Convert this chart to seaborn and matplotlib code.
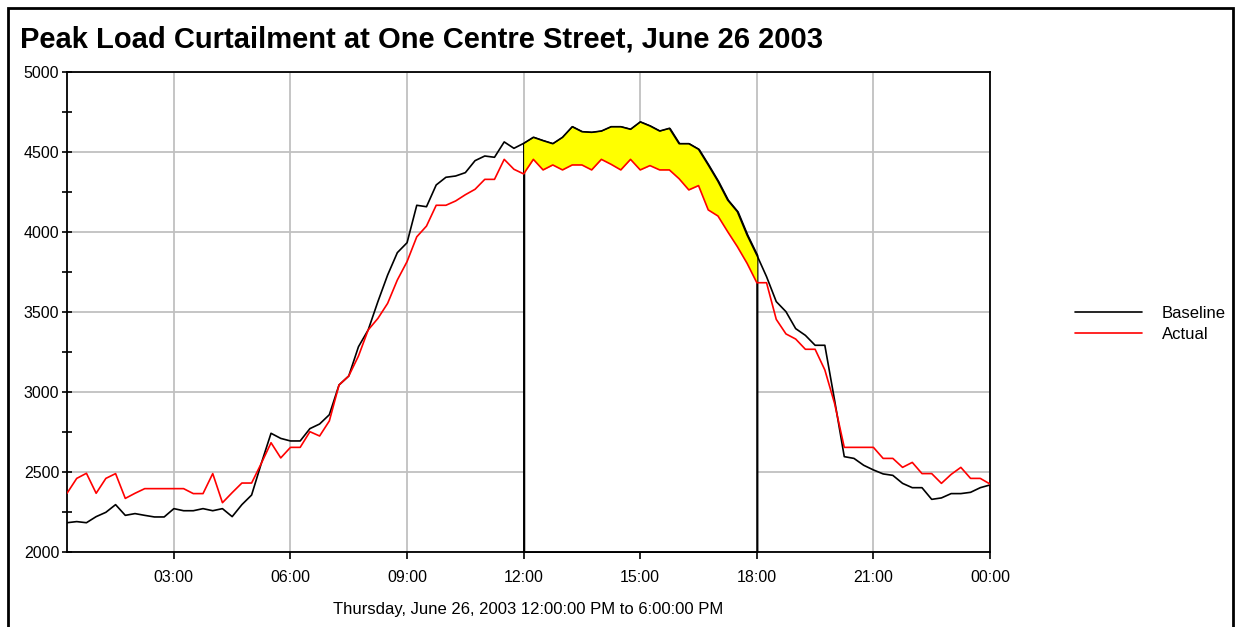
import matplotlib
matplotlib.use("Agg")
from matplotlib import pyplot as plt
from matplotlib.patches import Rectangle
from matplotlib.ticker import MultipleLocator
import seaborn as sns
import pandas as pd
import numpy as np

# 15 minute readings, 00:15 .. 24:00
hours = np.arange(1, 97) / 4.0

baseline = [2183, 2190, 2183, 2221, 2248, 2296, 2229, 2240, 2229, 2219,
            2219, 2271, 2258, 2258, 2271, 2258, 2271, 2221, 2296, 2356,
            2554, 2742, 2710, 2694, 2694, 2771, 2800, 2858, 3044, 3100,
            3283, 3388, 3565, 3731, 3871, 3933, 4167, 4158, 4294, 4342,
            4350, 4371, 4446, 4475, 4467, 4563, 4523, 4554, 4592, 4571,
            4552, 4592, 4658, 4627, 4623, 4631, 4658, 4658, 4642, 4688,
            4663, 4631, 4648, 4552, 4552, 4517, 4419, 4317, 4200, 4127,
            3981, 3856, 3721, 3565, 3502, 3396, 3354, 3292, 3292, 2950,
            2596, 2585, 2542, 2513, 2488, 2479, 2429, 2402, 2402, 2329,
            2338, 2365, 2365, 2373, 2402, 2419]

actual = [2367, 2460, 2492, 2367, 2460, 2490, 2335, 2367, 2396, 2396,
          2396, 2396, 2396, 2365, 2365, 2490, 2308, 2371, 2431, 2431,
          2554, 2683, 2588, 2654, 2654, 2752, 2725, 2819, 3044, 3100,
          3225, 3388, 3460, 3554, 3700, 3815, 3970, 4037, 4167, 4167,
          4194, 4233, 4267, 4329, 4329, 4454, 4392, 4363, 4454, 4388,
          4419, 4388, 4419, 4419, 4388, 4454, 4423, 4388, 4454, 4388,
          4415, 4388, 4388, 4333, 4263, 4290, 4138, 4100, 4002, 3908,
          3804, 3683, 3683, 3454, 3363, 3331, 3267, 3267, 3138, 2929,
          2654, 2654, 2654, 2654, 2585, 2585, 2529, 2560, 2490, 2490,
          2429, 2485, 2529, 2460, 2460, 2425]

curtail_start, curtail_end = 12.0, 18.0
xticks = [3, 6, 9, 12, 15, 18, 21, 24]
xticklabels = ["03:00", "06:00", "09:00", "12:00", "15:00", "18:00", "21:00", "00:00"]

df = pd.DataFrame({"hour": hours, "Baseline": baseline, "Actual": actual})

sns.set_style("white")
plt.rcParams["font.family"] = ["Liberation Sans", "DejaVu Sans"]
plt.rcParams["text.color"] = "black"
plt.rcParams["axes.labelcolor"] = "black"
plt.rcParams["xtick.color"] = "black"
plt.rcParams["ytick.color"] = "black"

fig = plt.figure(figsize=(12.35, 6.27), dpi=100)
ax = fig.add_axes([67 / 1235, 1 - 552 / 627, (990 - 67) / 1235, (552 - 72) / 627])

win = df[(df.hour >= curtail_start) & (df.hour <= curtail_end)]
# curtailment window: white block under the baseline, yellow between the curves
ax.fill_between(win.hour, 2000, win.Baseline, facecolor="white",
                edgecolor="black", linewidth=1.6, zorder=2)
ax.fill_between(win.hour, win.Actual, win.Baseline, facecolor="yellow",
                linewidth=0, zorder=3)

sns.lineplot(data=df, x="hour", y="Baseline", color="black", linewidth=1.2,
             ax=ax, zorder=4, label="Baseline")
sns.lineplot(data=df, x="hour", y="Actual", color="red", linewidth=1.2,
             ax=ax, zorder=4, label="Actual")

ax.set_xlim(0.25, 24)
ax.set_ylim(2000, 5000)
ax.set_xticks(xticks)
ax.set_xticklabels(xticklabels)
ax.yaxis.set_major_locator(MultipleLocator(500))
ax.yaxis.set_minor_locator(MultipleLocator(250))
ax.grid(True, which="major", color="#c0c0c0", linewidth=1.3, zorder=0)
ax.set_axisbelow(True)
for s in ax.spines.values():
    s.set_color("black")
    s.set_linewidth(1.3)
ax.tick_params(axis="y", which="both", direction="inout", length=7, width=1.2,
               labelsize=11.5, pad=2, left=True)
ax.tick_params(axis="x", which="major", direction="out", length=5, width=1.2,
               labelsize=11.5, pad=8, bottom=True)
ax.set_ylabel("")
ax.set_xlabel("Thursday, June 26, 2003 12:00:00 PM to 6:00:00 PM",
              fontsize=12, labelpad=12)

handles, labels = ax.get_legend_handles_labels()
ax.get_legend().remove()
fig.legend(handles, labels, loc="center left", bbox_to_anchor=(1060 / 1235, 1 - 324 / 627),
           frameon=False, fontsize=12, handlelength=4.0, handletextpad=1.2,
           labelspacing=0.35)

fig.text(20 / 1235, 1 - 47 / 627, "Peak Load Curtailment at One Centre Street, June 26 2003",
         fontsize=21, fontweight="bold", ha="left", va="baseline")

fig.patches.append(Rectangle((8 / 1235, -0.02), (1233 - 8) / 1235, 1.02 - 8 / 627,
                             transform=fig.transFigure, fill=False,
                             edgecolor="black", linewidth=2))

plt.savefig("out.png", dpi=100)
